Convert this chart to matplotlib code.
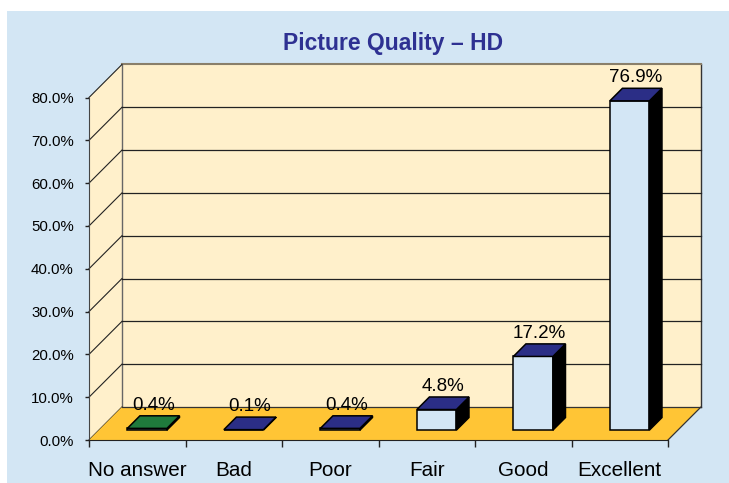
import matplotlib.pyplot as plt
from matplotlib.patches import Polygon, Rectangle

# data
categories = ['No answer', 'Bad', 'Poor', 'Fair', 'Good', 'Excellent']
values = [0.4, 0.1, 0.4, 4.8, 17.2, 76.9]
value_labels = ['0.4%', '0.1%', '0.4%', '4.8%', '17.2%', '76.9%']
yticks = [0, 10, 20, 30, 40, 50, 60, 70, 80]
ytick_labels = ['0.0%', '10.0%', '20.0%', '30.0%', '40.0%', '50.0%', '60.0%', '70.0%', '80.0%']
top_colors = ['#1F7A3C', '#2B2E86', '#2B2E86', '#2B2E86', '#2B2E86', '#2B2E86']

# colours
bg = '#D3E6F4'
wall = '#FFF0CB'
floor = '#FFC535'
face = '#D3E6F5'
navy = '#2E3192'

regular = ['Liberation Sans', 'DejaVu Sans']

# depth of the 3d box in data units
DX = 0.342
DY = 7.72
f0, f1 = 0.30, 0.68   # bar front / back as fraction of depth
half_w = 0.205

fig = plt.figure(figsize=(7.29, 4.83), dpi=100)
fig.patch.set_facecolor('white')
fig.patches.append(Rectangle((7 / 729, 0), 1, 1 - 11 / 483, transform=fig.transFigure,
                             facecolor=bg, edgecolor='none', zorder=-10))

ax = fig.add_axes([89 / 729, 43 / 483, 579 / 729, 342.5 / 483])
ax.patch.set_visible(False)
ax.set_xlim(-0.5, len(categories) - 0.5)
ax.set_ylim(0, 80)
xl, xr = -0.5, len(categories) - 0.5
ymax = 80

# side wall and back wall
ax.add_patch(Polygon([(xl, 0), (xl + DX, DY), (xl + DX, ymax + DY), (xl, ymax)],
                     closed=True, facecolor=wall, edgecolor='none', clip_on=False, zorder=0))
ax.add_patch(Polygon([(xl + DX, DY), (xr + DX, DY), (xr + DX, ymax + DY), (xl + DX, ymax + DY)],
                     closed=True, facecolor=wall, edgecolor='none', clip_on=False, zorder=0))
ax.plot([xl + DX, xl + DX], [DY, ymax + DY], color='#666666', lw=1, clip_on=False, zorder=1)
ax.plot([xr + DX, xr + DX], [DY, ymax + DY], color='#333333', lw=1, clip_on=False, zorder=1)
ax.plot([xl + DX, xr + DX], [ymax + DY, ymax + DY], color='#8A7F6A', lw=1.5, clip_on=False, zorder=1)

# gridlines on walls
for v in yticks:
    ax.plot([xl, xl + DX], [v, v + DY], color='#222222', lw=0.8, clip_on=False, zorder=1)
    if 0 < v < ymax:
        ax.plot([xl + DX, xr + DX], [v + DY, v + DY], color='#222222', lw=0.9, clip_on=False, zorder=1)

# floor
ax.add_patch(Polygon([(xl, 0), (xr, 0), (xr + DX, DY), (xl + DX, DY)],
                     closed=True, facecolor=floor, edgecolor='none', clip_on=False, zorder=2))
ax.plot([xl + DX, xr + DX], [DY, DY], color='#333333', lw=0.9, clip_on=False, zorder=2)
ax.plot([xr, xr + DX], [0, DY], color='#333333', lw=0.9, clip_on=False, zorder=2)

# bars
for i, (v, c, lab) in enumerate(zip(values, top_colors, value_labels)):
    x0 = i - half_w
    x1 = i + half_w
    b0 = f0 * DY
    b1 = f1 * DY
    s0 = f0 * DX
    s1 = f1 * DX
    front = [(x0 + s0, b0), (x1 + s0, b0), (x1 + s0, b0 + v), (x0 + s0, b0 + v)]
    top = [(x0 + s0, b0 + v), (x1 + s0, b0 + v), (x1 + s1, b1 + v), (x0 + s1, b1 + v)]
    side = [(x1 + s0, b0), (x1 + s1, b1), (x1 + s1, b1 + v), (x1 + s0, b0 + v)]
    front_col = face if v > 1 else '#6E7B8C'
    ax.add_patch(Polygon(front, closed=True, facecolor=front_col, edgecolor='black', lw=1.1,
                         clip_on=False, zorder=3))
    ax.add_patch(Polygon(side, closed=True, facecolor='black', edgecolor='black', lw=1.1,
                         clip_on=False, zorder=3))
    ax.add_patch(Polygon(top, closed=True, facecolor=c, edgecolor='black', lw=1.1,
                         clip_on=False, zorder=4))
    ax.annotate(lab, (i + (s0 + s1) / 2, b1 + v), xytext=(0, 1.5), textcoords='offset points',
                ha='center', va='bottom', fontsize=13.5, family=regular, color='black',
                annotation_clip=False, zorder=5)

# axes
for s in ['top', 'right']:
    ax.spines[s].set_visible(False)
ax.spines['left'].set_color('#444444')
ax.spines['bottom'].set_color('#222222')
ax.spines['left'].set_zorder(2.5)
ax.spines['bottom'].set_zorder(2.5)

ax.set_yticks(yticks)
ax.set_yticklabels(ytick_labels, family=regular, fontsize=10.8)
ax.tick_params(axis='y', length=3, width=1, color='#222222', pad=8)

ax.set_xticks([k - 0.5 for k in range(len(categories) + 1)])
ax.set_xticklabels([])
ax.set_xticks(range(len(categories)), minor=True)
ax.set_xticklabels(categories, minor=True, family=regular, fontsize=14.9)
ax.tick_params(axis='x', which='major', length=5, width=1, color='#222222')
ax.tick_params(axis='x', which='minor', length=0, pad=15)

fig.text(393.5 / 729, 1 - 50 / 483, 'Picture Quality \u2013 HD', ha='center', va='baseline',
         fontsize=16.5, fontweight='bold', family=regular, color=navy)

fig.savefig('out.png', dpi=100, facecolor=fig.get_facecolor())
